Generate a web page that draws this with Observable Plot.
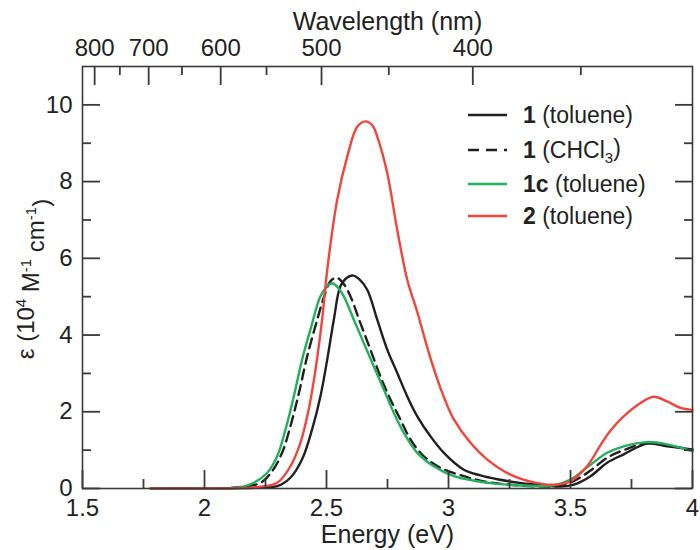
<!DOCTYPE html>
<html><head><meta charset="utf-8">
<script src="https://cdn.jsdelivr.net/npm/d3@7"></script>
<script src="https://cdn.jsdelivr.net/npm/@observablehq/plot@0.6"></script>
<style>
body{margin:0;background:#fff}
#chart{position:relative;width:700px;height:550px}
</style>
</head><body><div id="chart"></div>
<script>
// ---- data ----
const seriesNames = ["1 (toluene)", "1 (CHCl3)", "1c (toluene)", "2 (toluene)"];
const seriesColors = ["#231f20", "#231f20", "#22b05a", "#f2443b"];

const energy1Tol = [1.78,2.00,2.15,2.25,2.298,2.352,2.40,2.441,2.475,2.503,2.53,2.557,2.585,2.61,2.635,2.667,2.708,2.749,2.79,2.831,2.872,2.926,2.981,3.063,3.131,3.20,3.30,3.40,3.46,3.514,3.582,3.65,3.718,3.814,3.896,4.00];
const eps1Tol    = [0,0,0.01,0.03,0.06,0.28,0.76,1.54,2.40,3.36,4.40,5.27,5.50,5.55,5.45,5.18,4.40,3.62,3.01,2.40,1.88,1.36,0.93,0.49,0.34,0.24,0.14,0.08,0.05,0.10,0.32,0.67,0.89,1.17,1.10,1.02];

const energy1Chcl3 = [1.78,2.00,2.15,2.23,2.277,2.318,2.352,2.387,2.421,2.462,2.49,2.516,2.54,2.565,2.598,2.639,2.68,2.721,2.762,2.803,2.844,2.899,2.967,3.063,3.15,3.25,3.35,3.45,3.514,3.582,3.65,3.718,3.814,3.90,4.00];
const eps1Chcl3    = [0,0,0.04,0.15,0.45,0.93,1.62,2.49,3.45,4.40,5.00,5.40,5.50,5.38,5.01,4.31,3.62,2.92,2.32,1.80,1.28,0.84,0.54,0.32,0.18,0.10,0.06,0.07,0.20,0.47,0.80,1.00,1.19,1.12,1.00];

const energy1c = [1.78,2.00,2.134,2.202,2.257,2.298,2.332,2.366,2.40,2.434,2.475,2.50,2.523,2.545,2.571,2.612,2.653,2.694,2.735,2.776,2.817,2.872,2.94,3.022,3.118,3.20,3.30,3.43,3.50,3.568,3.65,3.718,3.814,3.896,4.00];
const eps1c    = [0,0,0.02,0.15,0.41,0.84,1.54,2.40,3.36,4.14,5.01,5.25,5.35,5.25,5.01,4.40,3.79,3.18,2.58,1.97,1.45,0.93,0.58,0.32,0.19,0.12,0.08,0.08,0.23,0.55,0.93,1.10,1.21,1.15,0.97];

const energy2 = [1.78,2.00,2.20,2.298,2.352,2.393,2.427,2.455,2.482,2.503,2.544,2.585,2.626,2.66,2.69,2.708,2.749,2.79,2.831,2.872,2.926,2.98,3.022,3.09,3.158,3.254,3.35,3.43,3.50,3.568,3.62,3.66,3.718,3.787,3.841,3.896,3.951,4.00];
const eps2    = [0,0,0.03,0.15,0.58,1.19,2.06,3.10,4.40,5.70,7.53,8.65,9.43,9.57,9.45,9.17,8.22,6.74,5.44,4.60,3.40,2.40,1.80,1.19,0.76,0.36,0.16,0.10,0.19,0.58,1.10,1.48,1.88,2.23,2.39,2.27,2.10,2.05];

const energyTicks = [1.5, 2, 2.5, 3, 3.5, 4];
const energyMinorTicks = [1.75, 2.25, 2.75, 3.25, 3.75];
const epsTicks = [0, 2, 4, 6, 8, 10];
const epsMinorTicks = [1, 3, 5, 7, 9];
const wavelengthTicks = [800, 700, 600, 500, 400];
const wavelengthMinorTicks = [750, 650, 550, 450, 350];
const hc = 1239.84; // eV·nm

// ---- build ----
const W = 700, H = 550, mL = 82, mR = 8, mT = 66, mB = 62;
const frameW = W - mL - mR, frameH = H - mT - mB;
const toRows = (E, V) => E.map((e, i) => ({E: e, eps: V[i]}));
const rows = [toRows(energy1Tol, eps1Tol), toRows(energy1Chcl3, eps1Chcl3), toRows(energy1c, eps1c), toRows(energy2, eps2)];

const axisCol = "#3a3a3a";
const textCol = "#222";
const ax = (data, opts) => Plot.axisX(data, {label: null, fill: textCol, tickSize: 0, ...opts});
const ay = (data, opts) => Plot.axisY(data, {label: null, fill: textCol, tickSize: 0, ...opts});
// inward ticks: tick marks inset from the far side of the frame
const tk = {stroke: axisCol, strokeWidth: 1.8};
const tickB = (data, len) => Plot.tickX(data, {x: d => d, insetTop: frameH - len, ...tk});
const tickT = (data, len) => Plot.tickX(data, {x: d => hc / d, insetBottom: frameH - len, ...tk});
const tickL = (data, len) => Plot.tickY(data, {y: d => d, insetRight: frameW - len, ...tk});
const tickR = (data, len) => Plot.tickY(data, {y: d => d, insetLeft: frameW - len, ...tk});

const chart = Plot.plot({
  width: W, height: H,
  marginLeft: mL, marginRight: mR, marginTop: mT, marginBottom: mB,
  style: {fontFamily: "'Liberation Sans', Arial, sans-serif", fontSize: "24px", color: textCol, background: "#fff"},
  x: {domain: [1.5, 4]},
  y: {domain: [0, 11]},
  marks: [
    // series
    Plot.line(rows[0], {x: "E", y: "eps", stroke: seriesColors[0], strokeWidth: 2.4, curve: "catmull-rom"}),
    Plot.line(rows[1], {x: "E", y: "eps", stroke: seriesColors[1], strokeWidth: 2.4, strokeDasharray: "10,6", curve: "catmull-rom"}),
    Plot.line(rows[2], {x: "E", y: "eps", stroke: seriesColors[2], strokeWidth: 2.4, curve: "catmull-rom"}),
    Plot.line(rows[3], {x: "E", y: "eps", stroke: seriesColors[3], strokeWidth: 2.4, curve: "catmull-rom"}),
    // inward ticks
    tickB(energyTicks, 18), tickB(energyMinorTicks, 9),
    tickT(wavelengthTicks, 19), tickT(wavelengthMinorTicks, 9),
    tickL(epsTicks, 18), tickL(epsMinorTicks, 9),
    tickR(epsTicks, 17), tickR(epsMinorTicks, 8),
    // tick labels
    ax(energyTicks, {anchor: "bottom", tickPadding: 10, tickFormat: d => String(d)}),
    ax(wavelengthTicks.map(w => hc / w), {anchor: "top", tickPadding: 11, tickFormat: d => String(Math.round(hc / d))}),
    ay(epsTicks, {anchor: "left", tickPadding: 10, tickFormat: d => String(d)}),
    Plot.frame({stroke: axisCol, strokeWidth: 1.6}),
    // axis titles
    Plot.text(["Energy (eV)"], {frameAnchor: "bottom", dy: 54, fill: textCol, fontSize: 25}),
    Plot.text(["Wavelength (nm)"], {frameAnchor: "top", dy: -54, fill: textCol, fontSize: 25})
  ]
});
document.getElementById("chart").appendChild(chart);

const svg = d3.select(chart);
// y-axis title with superscripts
const yl = svg.append("text")
  .attr("transform", "translate(26,279) rotate(-90)")
  .attr("text-anchor", "middle").attr("dy", "0.35em")
  .attr("fill", textCol).attr("font-size", 24);
yl.append("tspan").text("ε (10");
yl.append("tspan").attr("dy", "-0.55em").attr("font-size", 15).text("4");
yl.append("tspan").attr("dy", "0.55em").text(" M");
yl.append("tspan").attr("dy", "-0.55em").attr("font-size", 15).text("-1");
yl.append("tspan").attr("dy", "0.55em").text(" cm");
yl.append("tspan").attr("dy", "-0.55em").attr("font-size", 15).text("-1");
yl.append("tspan").attr("dy", "0.55em").text(")");

// legend
const legendY = [115, 150, 184, 216];
const lg = svg.append("g").attr("fill", textCol).attr("font-size", 23).attr("text-anchor", "start");
seriesNames.forEach((name, i) => {
  lg.append("line").attr("x1", 468).attr("x2", 507).attr("y1", legendY[i]).attr("y2", legendY[i])
    .attr("stroke", seriesColors[i]).attr("stroke-width", 2.6)
    .attr("stroke-dasharray", i === 1 ? "11,7" : null);
  const t = lg.append("text").attr("x", 523).attr("y", legendY[i]).attr("dy", "0.35em").attr("text-anchor", "start");
  const sp = name.indexOf(" ");
  t.append("tspan").attr("font-weight", "bold").text(name.slice(0, sp));
  const rest = name.slice(sp);
  const m = rest.match(/^(.*CHCl)(\d)(\))$/);
  if (m) {
    t.append("tspan").text(m[1]);
    t.append("tspan").attr("dy", "0.3em").attr("font-size", 15).text(m[2]);
    t.append("tspan").attr("dy", "-0.3em").text(m[3]);
  } else {
    t.append("tspan").text(rest);
  }
});
</script>
</body></html>
